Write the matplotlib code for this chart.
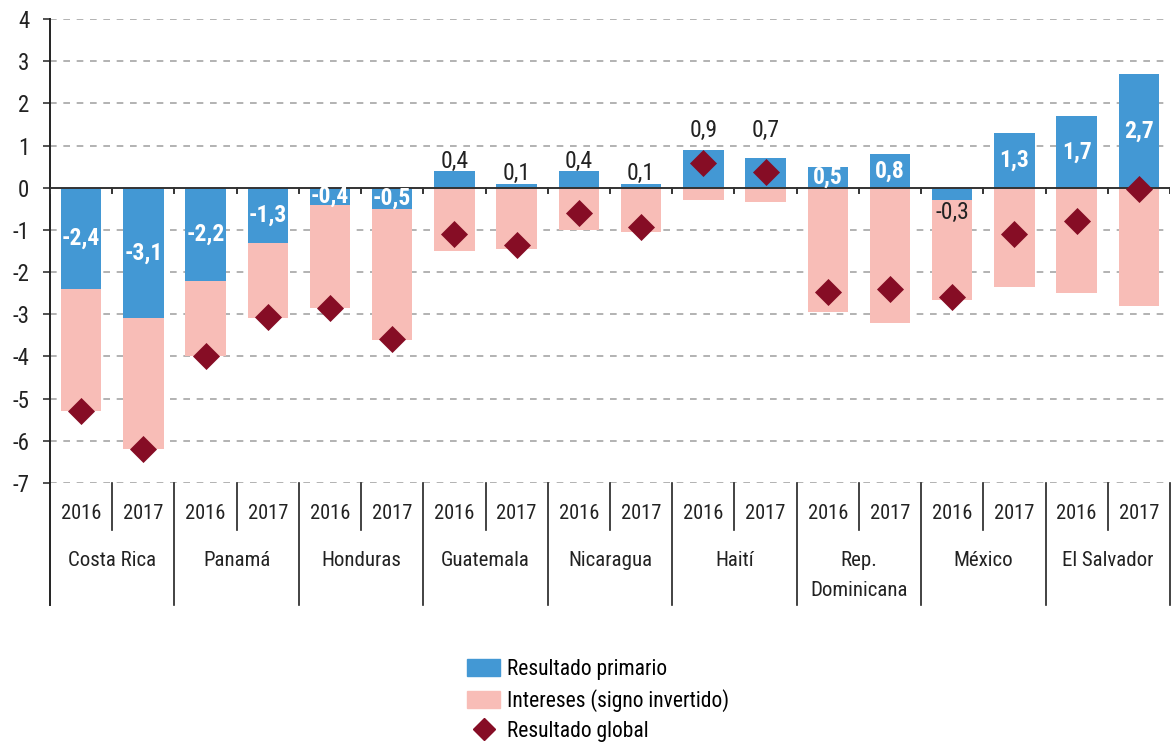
import matplotlib
matplotlib.use("Agg")
import matplotlib.pyplot as plt
from matplotlib.lines import Line2D
from matplotlib.patches import Patch
import numpy as np

plt.rcParams["font.family"] = ["Roboto Condensed", "IBM Plex Sans Condensed", "DejaVu Sans"]

countries = ["Costa Rica", "Panamá", "Honduras", "Guatemala", "Nicaragua",
             "Haití", "Rep.\nDominicana", "México", "El Salvador"]
years = ["2016", "2017"]
primario = [-2.4, -3.1, -2.2, -1.3, -0.4, -0.5, 0.4, 0.1, 0.4, 0.1,
            0.9, 0.7, 0.5, 0.8, -0.3, 1.3, 1.7, 2.7]
intereses = [2.9, 3.1, 1.8, 1.8, 2.45, 3.1, 1.5, 1.45, 1.0, 1.05,
             0.29, 0.33, 2.95, 3.2, 2.35, 2.35, 2.5, 2.8]
glob = [-5.3, -6.2, -4.0, -3.07, -2.85, -3.58, -1.1, -1.35, -0.61, -0.92,
        0.58, 0.38, -2.47, -2.4, -2.6, -1.1, -0.8, -0.04]

BLUE = "#4398d4"
PINK = "#f8bdb7"
RED = "#860d25"
INK = "#222222"

prim = np.array(primario)
inter = np.array(intereses)
n = len(prim)
x = np.arange(n)
pink_top = np.where(prim < 0, prim, 0)

fig = plt.figure(figsize=(11.72, 7.44), dpi=100)
ax = fig.add_axes([50 / 1172, 1 - 483 / 744, 1120 / 1172, 464 / 744])

ax.set_ylim(-7, 4)
ax.set_xlim(-0.5, n - 0.5)
for v in range(-7, 5):
    if v != 0:
        ax.axhline(v, color="#a6a6a6", lw=1.2, ls=(0, (4, 4)), zorder=0)

w = 0.65
ax.bar(x, prim, width=w, color=BLUE, zorder=2)
ax.bar(x, -inter, bottom=pink_top, width=w, color=PINK, zorder=2)
ax.axhline(0, color="#333333", lw=1.4, zorder=3)
ax.scatter(x, glob, marker="D", s=190, color=RED, zorder=4, linewidths=0)

# zero-line ticks between bars
for b in np.arange(n + 1) - 0.5:
    ax.plot([b, b], [0, -0.12], color="#333333", lw=1.4, zorder=3)

# value labels
outside = {6, 7, 8, 9, 10, 11, 14}
lift = {10: 1.2, 11: 1.2}
for i, v in enumerate(prim):
    txt = f"{v:.1f}".replace(".", ",")
    if i in outside:
        if v >= 0:
            y = lift.get(i, v + 0.08)
            ax.text(i, y, txt, ha="center", va="baseline", fontsize=17, color=INK, zorder=5)
        else:
            ax.text(i, v - 0.02, txt, ha="center", va="top", fontsize=17, color=INK, zorder=5)
    else:
        ax.text(i, v / 2, txt, ha="center", va="center", fontsize=17,
                fontweight="bold", color="white", zorder=5)

ax.set_yticks(range(-7, 5))
ax.set_yticklabels([str(v) for v in range(-7, 5)], fontsize=16.5, color=INK)
ax.tick_params(axis="y", length=5, width=1.2, color="#333333", pad=10)
ax.set_xticks([])
for s in ["top", "right", "bottom", "left"]:
    ax.spines[s].set_visible(False)

trans = ax.get_xaxis_transform()
# left axis line incl. extension below
ax.plot([-0.5, -0.5], [1, -0.263], transform=trans, color=INK, lw=1.4, clip_on=False)
for g in range(len(countries)):
    left = 2 * g - 0.5
    ax.plot([left + 2, left + 2], [0, -0.263], transform=trans, color=INK, lw=1.2, clip_on=False)
    ax.plot([left + 1, left + 1], [0, -0.101], transform=trans, color=INK, lw=1.2, clip_on=False)
    for k, yr in enumerate(years):
        ax.text(2 * g + k, -0.066, yr, transform=trans, ha="center", va="center",
                fontsize=14.8, color=INK)
    ax.text(2 * g + 0.5, -0.147, countries[g], transform=trans, ha="center", va="top",
            fontsize=15, color=INK, linespacing=1.72)

handles = [Patch(color=BLUE), Patch(color=PINK),
           Line2D([], [], marker="D", color=RED, ls="none", markersize=11)]
labels = ["Resultado primario", "Intereses (signo invertido)", "Resultado global"]
fig.legend(handles, labels, loc="upper left", bbox_to_anchor=(467 / 1172, 1 - 659 / 744),
           frameon=False, fontsize=15.5, handlelength=1.55, handleheight=0.8,
           handletextpad=0.3, labelspacing=0.42, borderpad=0, borderaxespad=0)

fig.savefig("out.png", dpi=100)
